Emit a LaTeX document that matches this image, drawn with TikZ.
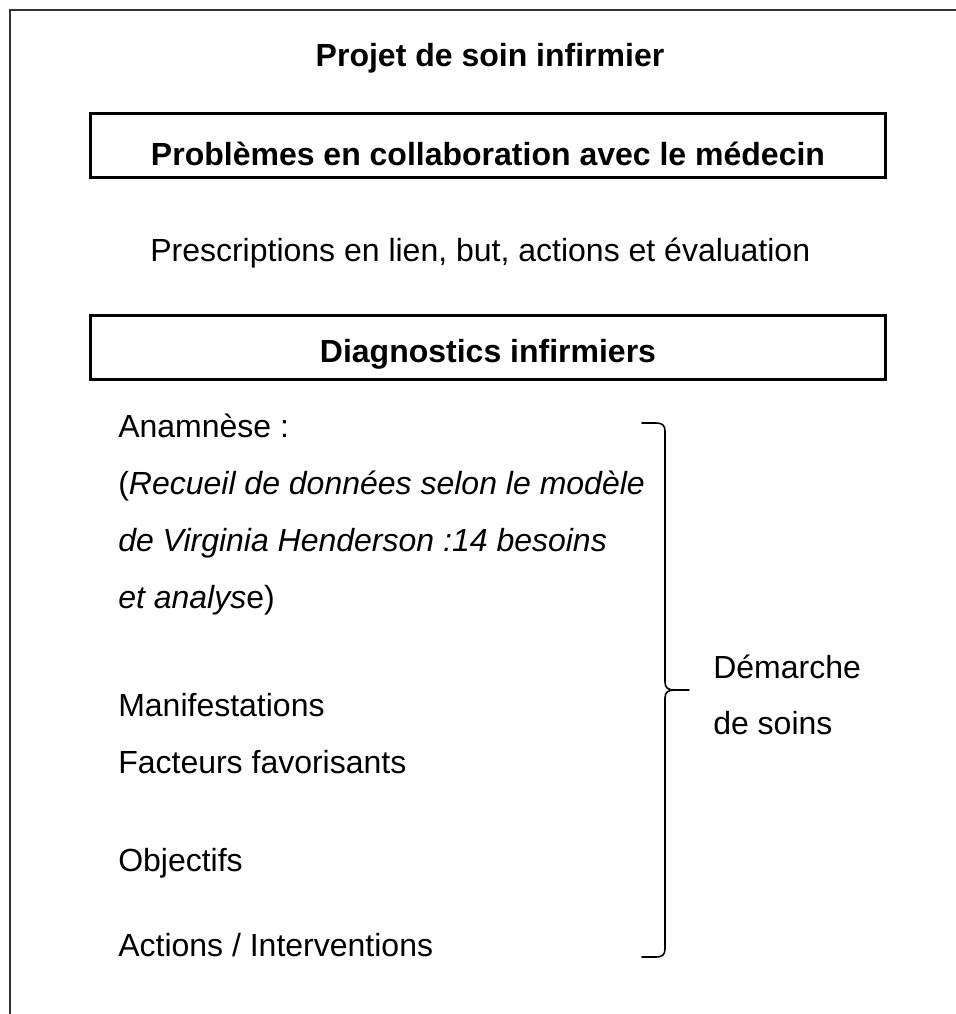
\documentclass[tikz,border=0pt]{standalone}
\usepackage{fontspec}
\setmainfont{Liberation Sans}
\begin{document}
\begin{tikzpicture}[x=0.75pt,y=-0.75pt,
  txt/.style={inner sep=0pt,font=\fontsize{24}{28}\selectfont},
  btxt/.style={txt,font=\fontsize{24}{28}\selectfont\bfseries},
  framebox/.style={draw=black,line width=2.25pt,inner sep=0pt,minimum width=596pt,minimum height=48pt},
  frameline/.style={draw=black!80,line width=1.5pt},
  bracestyle/.style={draw=black,line width=1.2pt,line cap=round,line join=round}]
\useasboundingbox (0,0) rectangle (956,1014);
% outer frame (top and left only)
\coordinate (fl) at (10,1014);
\coordinate (fc) at (10,10);
\coordinate (fr) at (956,10);
\draw[frameline] (fl) -- (fc) -- (fr);
% title
\node[btxt,anchor=base] (title) at (490,66) {Projet de soin infirmier};
% box 1
\node[framebox] (box1) at (488,145) {};
\node[btxt,anchor=base] (t1) at (488,165) {Problèmes en collaboration avec le médecin};
% prescriptions
\node[txt,anchor=base west] (presc) at (150,261) {Prescriptions en lien, but, actions et évaluation};
% box 2
\node[framebox] (box2) at (488,347) {};
\node[btxt,anchor=base] (t2) at (488,362) {Diagnostics infirmiers};
% left column
\node[txt,anchor=base west] (l1) at (118,437) {Anamnèse :};
\node[txt,anchor=base west] (l2) at (118,494) {(\textit{Recueil de données selon le modèle}};
\node[txt,anchor=base west] (l3) at (118,551) {\textit{de Virginia Henderson :14 besoins}};
\node[txt,anchor=base west] (l4) at (118,608) {\textit{et analys}e)};
\node[txt,anchor=base west] (l5) at (118,716) {Manifestations};
\node[txt,anchor=base west] (l6) at (118,773) {Facteurs favorisants};
\node[txt,anchor=base west] (l7) at (118,871) {Objectifs};
\node[txt,anchor=base west] (l8) at (118,956) {Actions / Interventions};
% brace
\coordinate (btop) at (642,423);
\coordinate (btip) at (689,690);
\coordinate (bbot) at (642,957);
\draw[bracestyle] (btop) -- (656,423) .. controls (662,423) and (665,425) .. (665,431)
  -- (665,682) .. controls (665,688) and (668,690) .. (675,690) -- (btip);
\draw[bracestyle] (675,690) .. controls (668,690) and (665,692) .. (665,698)
  -- (665,949) .. controls (665,955) and (662,957) .. (656,957) -- (bbot);
% label
\node[txt,anchor=base west] (d1) at (713,678) {Démarche};
\node[txt,anchor=base west] (d2) at (713,734) {de soins};
\end{tikzpicture}
\end{document}
